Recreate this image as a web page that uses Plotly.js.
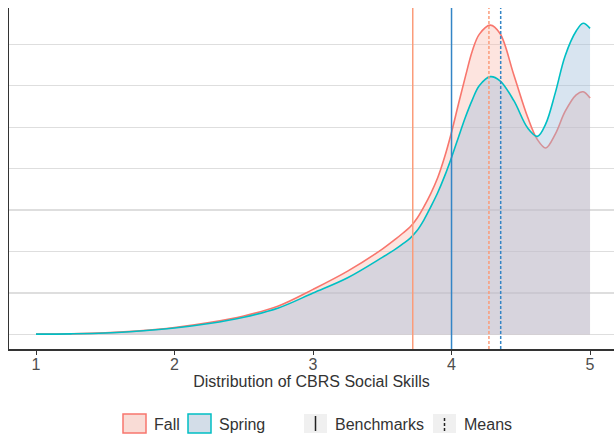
<!DOCTYPE html>
<html>
<head>
<meta charset="utf-8">
<script src="https://cdn.plot.ly/plotly-3.0.1.min.js"></script>
<style>
  html, body { margin: 0; padding: 0; background: #ffffff; }
  #chart { width: 614px; height: 439px; }
</style>
</head>
<body>
<div id="chart"></div>
<script>
// CBRS Social Skills score grid and density estimates for each term
const scores = [1.0, 1.25, 1.5, 1.75, 2.0, 2.25, 2.5, 2.75, 3.0, 3.25, 3.5, 3.6, 3.65, 3.7, 3.75, 3.8, 3.85, 3.9, 3.95,
                4.0, 4.05, 4.1, 4.15, 4.2, 4.28, 4.35, 4.45, 4.55, 4.62, 4.68, 4.75, 4.82, 4.9, 4.95, 5.0];
const fallDensity = [0.002, 0.004, 0.010, 0.022, 0.042, 0.072, 0.112, 0.172, 0.272, 0.382, 0.515, 0.578, 0.612, 0.648, 0.70, 0.77, 0.85, 0.945, 1.07,
                     1.22, 1.39, 1.555, 1.71, 1.81, 1.866, 1.815, 1.565, 1.31, 1.175, 1.125, 1.21, 1.345, 1.445, 1.464, 1.426];
const springDensity = [0.002, 0.004, 0.009, 0.021, 0.039, 0.066, 0.104, 0.16, 0.25, 0.342, 0.465, 0.518, 0.548, 0.58, 0.625, 0.69, 0.77, 0.855, 0.955,
                       1.068, 1.19, 1.31, 1.415, 1.50, 1.555, 1.53, 1.41, 1.245, 1.195, 1.27, 1.46, 1.68, 1.83, 1.877, 1.846];

// Reference lines: benchmark and mean score per term (Fall, Spring)
const terms = ["Fall", "Spring"];
const benchmarks = [3.72, 4.0];
const means = [4.27, 4.355];

// Axis ticks
const xTicks = [1, 2, 3, 4, 5];
const xTickLabels = ["1", "2", "3", "4", "5"];
const xTitle = "Distribution of CBRS Social Skills";
const legendLabels = ["Fall", "Spring", "Benchmarks", "Means"];

const W = 614, H = 439;
const M = { l: 9, r: 0, t: 8, b: 90 };
const plotW = W - M.l - M.r, plotH = H - M.t - M.b;
// pixel -> paper helpers for the hand-built legend
const px = v => (v - M.l) / plotW;
const py = v => (H - M.b - v) / plotH;

const lineColors = ["#F8766D", "#00BFC4"];
const fillColors = ["rgba(250,187,175,0.4)", "rgba(158,187,217,0.4)"];
const refColors = ["#FB9C7A", "#3385C6"];

const traces = [
  {
    x: scores, y: fallDensity, name: terms[0], type: "scatter", mode: "lines",
    fill: "tozeroy", fillcolor: fillColors[0],
    line: { color: lineColors[0], width: 1.6, shape: "spline", smoothing: 1 },
    hoverinfo: "x+y+name"
  },
  {
    x: scores, y: springDensity, name: terms[1], type: "scatter", mode: "lines",
    fill: "tozeroy", fillcolor: fillColors[1],
    line: { color: lineColors[1], width: 1.6, shape: "spline", smoothing: 1 },
    hoverinfo: "x+y+name"
  }
];

const shapes = [];
benchmarks.forEach((b, i) => shapes.push({
  type: "line", xref: "x", yref: "paper", x0: b, x1: b, y0: 0, y1: 1,
  line: { color: refColors[i], width: 1.5 }
}));
means.forEach((m, i) => shapes.push({
  type: "line", xref: "x", yref: "paper", x0: m, x1: m, y0: 0, y1: 1,
  line: { color: refColors[i], width: 1.5, dash: "3px,2px" }
}));

// legend keys
function box(x0, y0, x1, y1, fill, stroke) {
  return {
    type: "rect", xref: "paper", yref: "paper",
    x0: px(x0), x1: px(x1), y0: py(y1), y1: py(y0),
    fillcolor: fill, line: stroke ? { color: stroke, width: 1.5 } : { width: 0 }
  };
}
function vline(x, y0, y1, dash) {
  return {
    type: "line", xref: "paper", yref: "paper",
    x0: px(x), x1: px(x), y0: py(y1), y1: py(y0),
    line: { color: "#222222", width: 1.5, dash: dash || "solid" }
  };
}
shapes.push(box(123, 414, 146, 433, "#f9dcd6", lineColors[0]));
shapes.push(box(188, 414, 211, 433, "#d3dde8", lineColors[1]));
shapes.push(box(304, 414, 327, 433, "#f0f0f0", null));
shapes.push(vline(315.5, 416, 431));
shapes.push(box(433, 414, 456, 433, "#f0f0f0", null));
shapes.push(vline(444.5, 416, 431, "3px,2px"));

const legendTextX = [152, 217, 333, 462];
const annotations = legendLabels.map((t, i) => ({
  text: t, xref: "paper", yref: "paper", x: px(legendTextX[i]), y: py(424),
  xanchor: "left", yanchor: "middle", showarrow: false,
  font: { family: "Liberation Sans, Arial, sans-serif", size: 16, color: "#333333" }
}));

const layout = {
  width: W, height: H,
  margin: M,
  paper_bgcolor: "#ffffff", plot_bgcolor: "#ffffff",
  showlegend: false,
  font: { family: "Liberation Sans, Arial, sans-serif", size: 16, color: "#333333" },
  xaxis: {
    range: [0.805, 5.173],
    tickvals: xTicks, ticktext: xTickLabels,
    showgrid: false, zeroline: false,
    showline: true, linecolor: "#333333", linewidth: 1.5,
    ticks: "outside", ticklen: 4, tickwidth: 1, tickcolor: "#333333",
    ticklabelstandoff: -4,
    tickfont: { size: 16, color: "#4d4d4d" },
    title: { text: xTitle, font: { size: 16, color: "#333333" }, standoff: 2 }
  },
  yaxis: {
    range: [-0.0875, 1.969],
    tick0: 0, dtick: 0.25,
    showticklabels: false, ticks: "",
    showgrid: true, gridcolor: "#dedede", gridwidth: 1.3,
    zeroline: false,
    showline: true, linecolor: "#333333", linewidth: 1.5
  },
  shapes: shapes,
  annotations: annotations
};

Plotly.newPlot("chart", traces, layout, { displayModeBar: false, staticPlot: true });
</script>
</body>
</html>
